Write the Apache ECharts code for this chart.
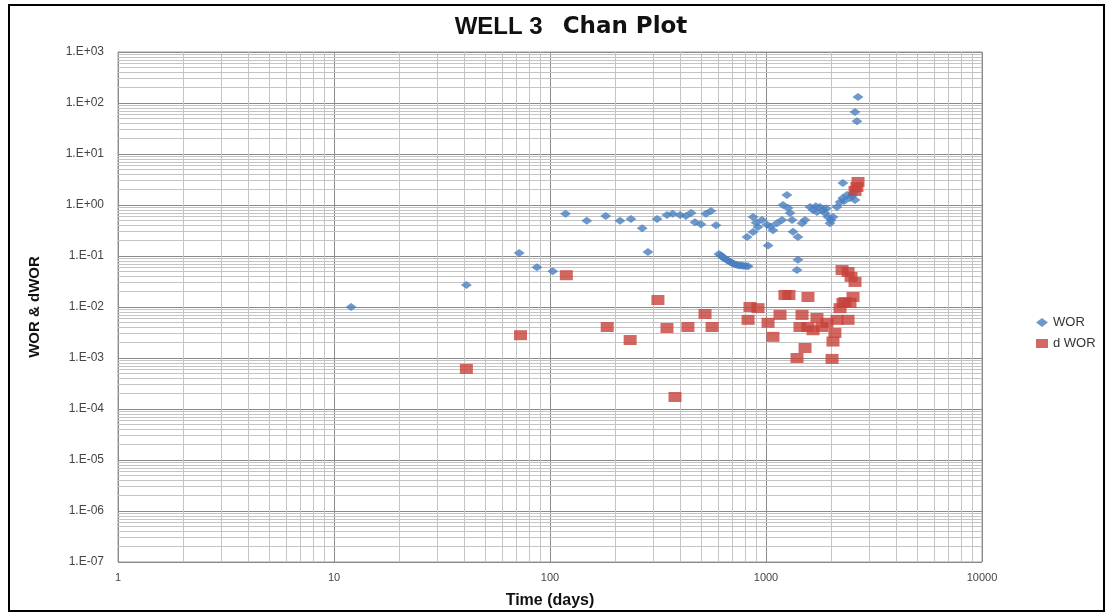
<!DOCTYPE html>
<html><head><meta charset="utf-8">
<script src="https://cdn.jsdelivr.net/npm/echarts@6/dist/echarts.min.js"></script>
<style>html,body{margin:0;padding:0;background:#fff}#c{width:1109px;height:616px}</style>
</head><body><div id="c"></div>
<script>
const titleWell = 'WELL 3';
const titlePlot = 'Chan Plot';
const xTicks = [1, 10, 100, 1000, 10000];
const yMin = 1e-7, yMax = 1e3;

const worDays = [12,41,72,87,103,118,148,181,211,237,267,284,313,348,370,400,426,450,469,500,527,556,587,
  606,618,630,642,655,668,680,692,705,718,730,745,760,775,790,808,826,817,871,918,871,900,958,1011,1022,1050,1077,1124,1186,1199,1250,1265,1292,1320,1334,
  1406,1406,1392,1468,1516,1599,1651,1700,1722,1778,1836,1875,1900,1936,1977,2000,2042,2132,2202,2270,2270,2300,2371,2448,2500,2529,2583,
  2583,2636,2667];
const worValues = [0.010,0.027,0.115,0.060,0.050,0.67,0.49,0.61,0.49,0.53,0.35,0.12,0.53,0.64,0.67,0.64,0.61,0.70,0.46,0.42,0.67,0.76,0.40,
  0.110,0.102,0.095,0.090,0.085,0.081,0.077,0.074,0.071,0.069,0.067,0.066,0.065,0.065,0.064,0.064,0.063,0.236,0.296,0.37,0.58,0.45,0.51,0.41,0.16,0.38,0.32,0.44,0.51,1.0,1.57,0.87,0.70,0.51,0.30,
  0.236,0.084,0.053,0.44,0.51,0.91,0.80,0.95,0.73,0.91,0.80,0.70,0.85,0.58,0.44,0.50,0.58,0.91,1.15,1.37,2.7,1.2,1.57,1.37,1.5,1.72,1.25,
  66.6,44,131];

const dworDays = [41,73,119,184,235,316,348,379,435,522,563,826,843,918,1022,1077,1161,1224,1277,1392,1436,1468,1516,1564,1564,1651,
  1722,1816,1915,2022,2042,2085,2132,2202,2250,2270,2322,2398,2398,2448,2477,2529,2583,2583,2636,2667];
const dworValues = [0.00061,0.0028,0.042,0.00405,0.00225,0.0137,0.00387,0.000172,0.00405,0.0073,0.00405,0.0056,0.010,0.0095,0.0049,0.0026,
  0.0070,0.0172,0.0172,0.0010,0.00405,0.0070,0.00157,0.0157,0.00405,0.0035,0.0061,0.00405,0.0049,0.00096,0.0021,0.0031,0.0056,0.0095,
  0.053,0.012,0.0125,0.0056,0.0486,0.012,0.039,0.0157,0.031,1.88,2.25,2.83];

const zip = (a, b) => a.map((v, i) => [v, b[i]]);

// minor grid positions (2..9 x each decade)
const minorX = [], minorY = [];
for (let e = 0; e < 4; e++) for (let m = 2; m <= 9; m++) minorX.push(m * Math.pow(10, e));
for (let e = -7; e < 3; e++) for (let m = 2; m <= 9; m++) minorY.push(m * Math.pow(10, e));
const xLo = xTicks[0], xHi = xTicks[xTicks.length - 1];
const minorSegs = minorX.map(v => ({coords: [[v, yMin], [v, yMax]]}))
  .concat(minorY.map(v => ({coords: [[xLo, v], [xHi, v]]})));

const chart = echarts.init(document.getElementById('c'), null, {renderer: 'canvas'});
chart.setOption({
  animation: false,
  backgroundColor: '#fff',
  textStyle: {fontFamily: 'Liberation Sans, Arial, sans-serif'},
  title: {
    text: '{a|' + titleWell + '}  {b|' + titlePlot + '}', left: 566, top: 10, textAlign: 'center',
    textStyle: {
      rich: {
        a: {fontSize: 24, fontWeight: 'bold', color: '#111', fontFamily: 'Liberation Sans Narrow, Liberation Sans, Arial, sans-serif'},
        b: {fontSize: 23, fontWeight: 'bold', color: '#111', fontFamily: 'DejaVu Sans, sans-serif', padding: [0, 0, 0, 10]}
      }
    }
  },
  graphic: [{
    type: 'rect', shape: {x: 9, y: 5, width: 1095, height: 606},
    style: {fill: 'none', stroke: '#000', lineWidth: 2}, silent: true, z: 100
  }],
  legend: {
    orient: 'vertical', left: 1031, top: 311, itemGap: 8, itemWidth: 12, itemHeight: 9,
    textStyle: {fontSize: 13, color: '#333'},
    data: [{name: 'WOR', icon: 'diamond'}, {name: 'd WOR', icon: 'rect'}]
  },
  grid: {left: 118, top: 52, width: 864, height: 510, show: true, borderColor: '#9a9a9a', borderWidth: 1, backgroundColor: 'transparent'},
  xAxis: {
    type: 'log', logBase: 10, min: xLo, max: xHi, interval: 1,
    name: 'Time (days)', nameLocation: 'middle', nameGap: 31,
    nameTextStyle: {fontSize: 16, fontWeight: 'bold', color: '#111'},
    axisLine: {show: false}, axisTick: {show: false},
    axisLabel: {fontSize: 11, color: '#444', margin: 10, formatter: v => String(Math.round(v))},
    splitLine: {show: true, lineStyle: {color: '#8a8a8a', width: 1}}
  },
  yAxis: {
    type: 'log', logBase: 10, min: yMin, max: yMax, interval: 1,
    name: 'WOR & dWOR', nameLocation: 'middle', nameGap: 76, nameRotate: 90,
    nameTextStyle: {fontSize: 15, fontWeight: 'bold', color: '#111'},
    axisLabel: {fontSize: 12, color: '#444', margin: 14, formatter: v => {
      const e = Math.round(Math.log10(v));
      const s = e < 0 ? '-' : '+';
      const a = Math.abs(e);
      return '1.E' + s + (a < 10 ? '0' + a : a);
    }},
    axisLine: {show: false}, axisTick: {show: false},
    splitLine: {show: true, lineStyle: {color: '#8a8a8a', width: 1}}
  },
  series: [
    {
      name: 'grid-minor', type: 'lines', coordinateSystem: 'cartesian2d', silent: true, z: 1,
      polyline: false, symbol: 'none', animation: false,
      lineStyle: {color: '#c4c4c4', width: 1, opacity: 1},
      data: minorSegs
    },
    {
      name: 'WOR', type: 'scatter', symbol: 'diamond', symbolSize: [11, 8], z: 3,
      itemStyle: {color: '#4a7fc1'},
      data: zip(worDays, worValues)
    },
    {
      name: 'd WOR', type: 'scatter', symbol: 'rect', symbolSize: [13, 10], z: 4,
      itemStyle: {color: '#c8413b'},
      data: zip(dworDays, dworValues)
    }
  ]
});
</script></body></html>
